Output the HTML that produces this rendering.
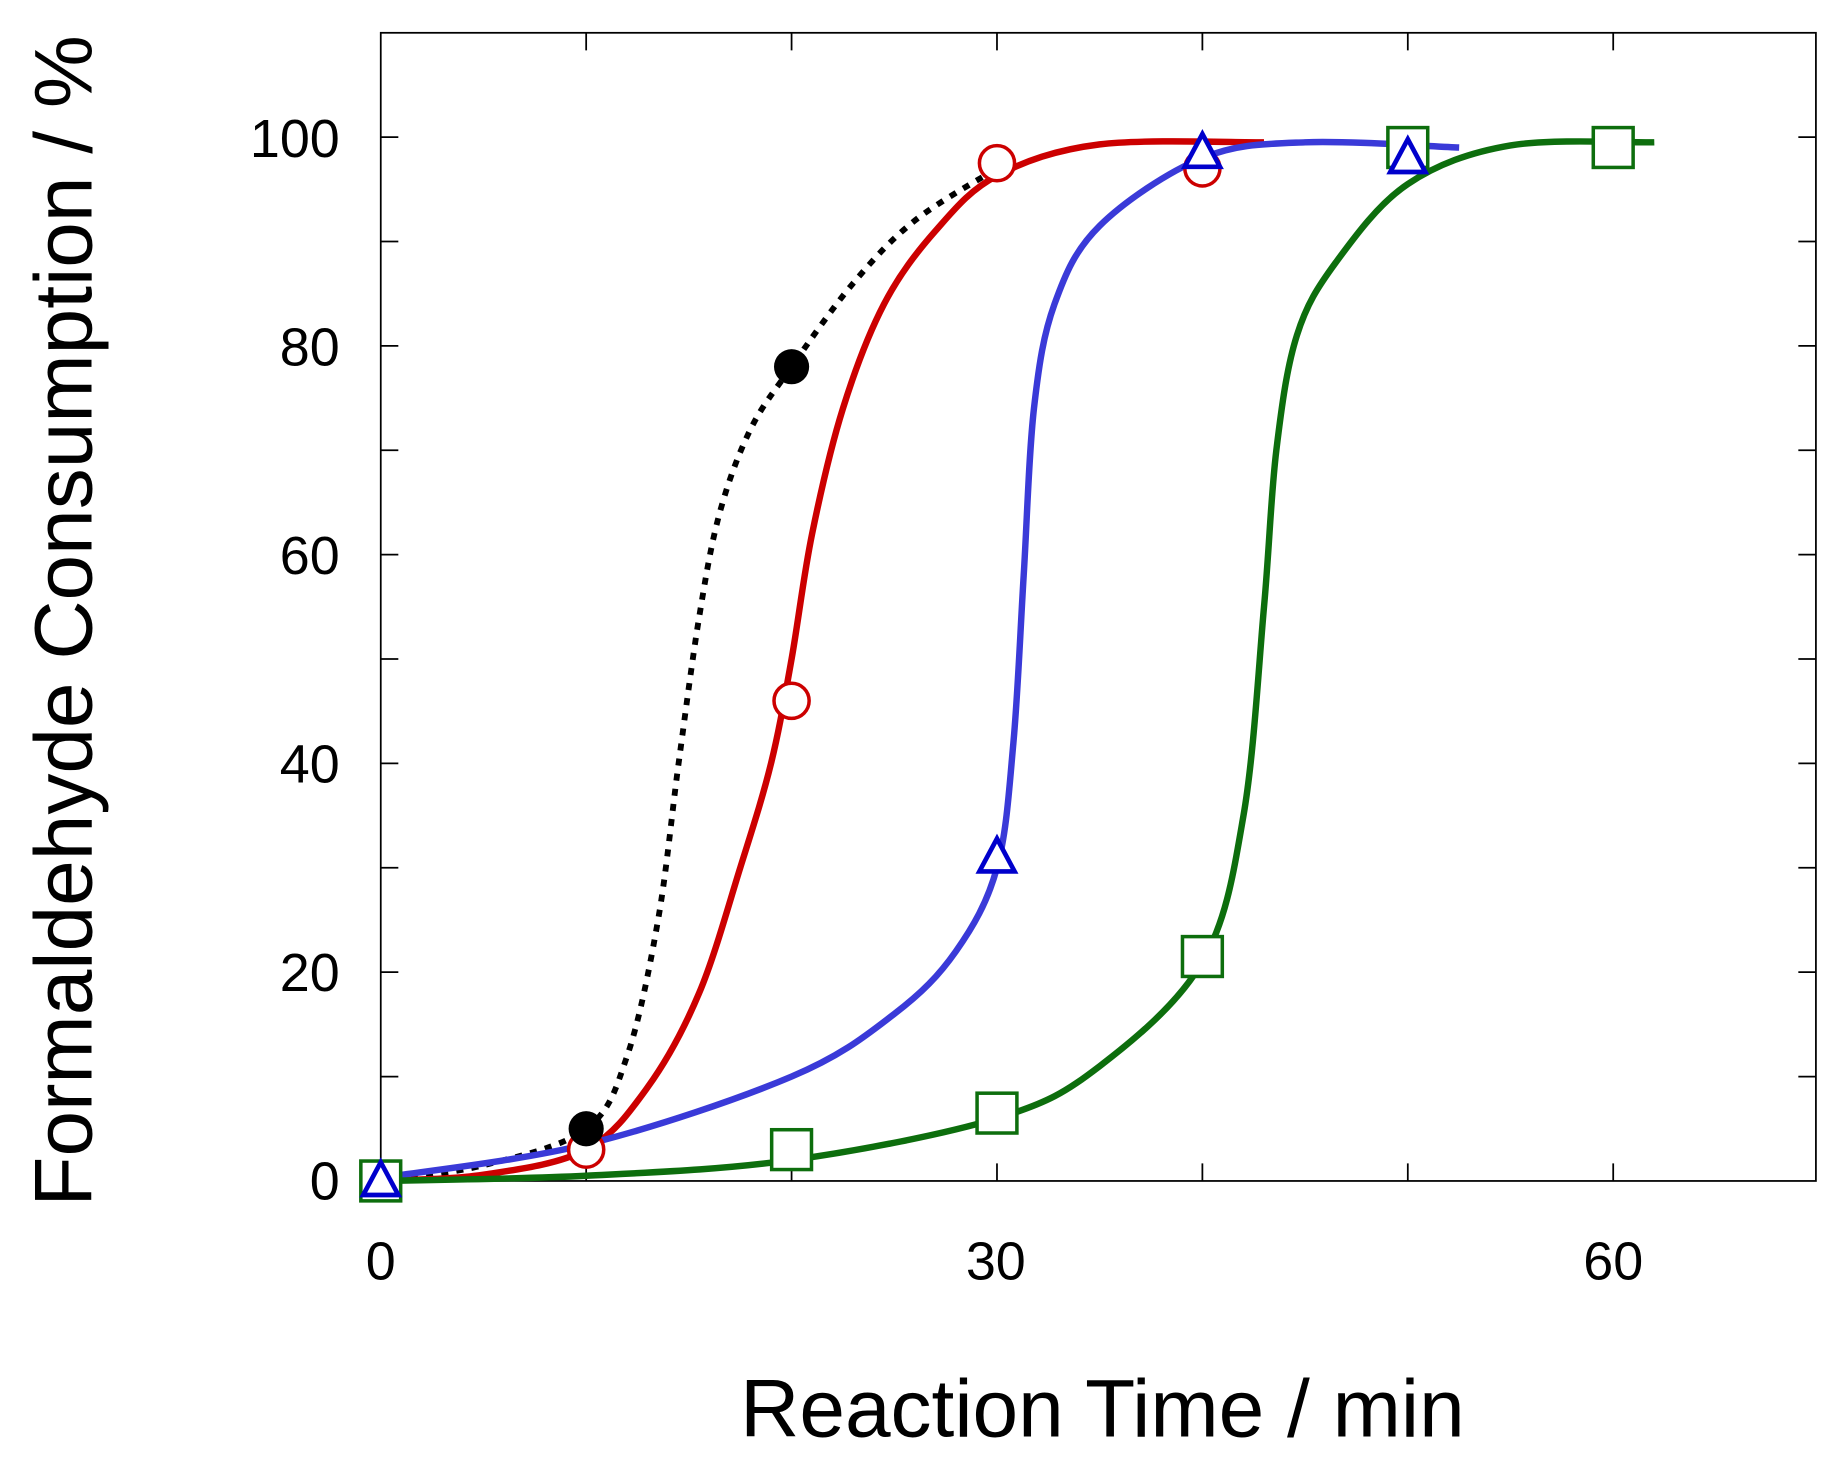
<!DOCTYPE html>
<html><head><meta charset="utf-8"><style>
html,body{margin:0;padding:0;background:#fff;}
svg{display:block;}
text{font-family:"Liberation Sans",sans-serif;fill:#000;}
</style></head><body>
<svg id="s" width="1837" height="1466" viewBox="0 0 1568 1251.3" preserveAspectRatio="none" xmlns="http://www.w3.org/2000/svg">
<rect x="325" y="28" width="1225" height="980" fill="none" stroke="#000" stroke-width="1.5"/>
<g id="ticks" stroke="#000" stroke-width="1.5"></g>
<g font-size="46" text-anchor="middle">
<text x="325" y="1092">0</text><text x="850" y="1092">30</text><text x="1377" y="1092">60</text>
</g>
<g font-size="46" text-anchor="end">
<text x="290" y="1024">0</text><text x="290" y="846">20</text><text x="290" y="668">40</text><text x="290" y="490">60</text><text x="290" y="312">80</text><text x="290" y="134">100</text>
</g>
<text x="941" y="1226" font-size="70" text-anchor="middle">Reaction Time / min</text>
<text transform="translate(78,530) rotate(-90)" font-size="70" text-anchor="middle">Formaldehyde Consumption / %</text>
<g id="curves" fill="none"></g>
<g id="marks"></g>
</svg>
<script>
var X=function(t){return 325+t*17.533;},Y=function(v){return 1008-v*8.91;};
var ns="http://www.w3.org/2000/svg";
function el(p,n,a){var e=document.createElementNS(ns,n);for(var k in a)e.setAttribute(k,a[k]);p.appendChild(e);return e;}
var tk=document.getElementById('ticks');
for(var t=10;t<70;t+=10){el(tk,'line',{x1:X(t),x2:X(t),y1:1008,y2:993});el(tk,'line',{x1:X(t),x2:X(t),y1:28,y2:43});}
for(var v=10;v<=100;v+=10){el(tk,'line',{x1:325,x2:340,y1:Y(v),y2:Y(v)});el(tk,'line',{x1:1550,x2:1535,y1:Y(v),y2:Y(v)});}
function path(pts){var p=pts.map(function(q){return [X(q[0]),Y(q[1])];});var d='M'+p[0][0]+','+p[0][1];
for(var i=0;i<p.length-1;i++){var p0=p[i-1]||p[i],p1=p[i],p2=p[i+1],p3=p[i+2]||p2;
d+=' C'+(p1[0]+(p2[0]-p0[0])/6)+','+(p1[1]+(p2[1]-p0[1])/6)+' '+(p2[0]-(p3[0]-p1[0])/6)+','+(p2[1]-(p3[1]-p1[1])/6)+' '+p2[0]+','+p2[1];}return d;}
var cv=document.getElementById('curves');
el(cv,'path',{d:path([[0,0],[5,1.5],[10,5],[12,12],[13.5,25],[14.5,40],[15.5,54],[16.5,64],[18,72],[20,78],[23,86],[26,92],[30,97]]),stroke:'#000','stroke-width':5,'stroke-dasharray':'6,7'});
el(cv,'path',{d:path([[0,0],[5,0.6],[10,3],[13,9],[15.5,18],[17.5,30],[19,40],[20,50],[21,62],[22.5,74],[24.5,84],[27,91],[30,96.3],[35,99.3],[43,99.5]]),stroke:'#cc0000','stroke-width':5.5});
el(cv,'path',{d:path([[0,0.3],[10,3.5],[20,10],[25,16],[28,22],[30,30],[30.8,42],[31.3,58],[31.8,74],[32.8,84],[35,91.5],[40,98],[45,99.5],[52.5,99]]),stroke:'#3a3ad8','stroke-width':5.5});
el(cv,'path',{d:path([[0,0],[10,0.5],[20,2],[30,6],[35,11],[40,21],[42,35],[43,55],[43.6,70],[44.6,81],[46.5,88],[50,95.5],[55,99.2],[62,99.5]]),stroke:'#0d6e0d','stroke-width':5.5});
var mk=document.getElementById('marks');
[[0,0],[10,3],[20,46],[30,97.5],[40,97]].forEach(function(q){el(mk,'circle',{cx:X(q[0]),cy:Y(q[1]),r:15,fill:'#fff',stroke:'#cc0000','stroke-width':3});});
[[0,0],[20,3],[30,6.5],[40,21.5],[50,99],[60,99]].forEach(function(q){el(mk,'rect',{x:X(q[0])-17,y:Y(q[1])-17,width:34,height:34,fill:'#fff',stroke:'#0d6e0d','stroke-width':3});});
[[10,5],[20,78]].forEach(function(q){el(mk,'circle',{cx:X(q[0]),cy:Y(q[1]),r:15,fill:'#000'});});
[[0,0],[30,31],[40,98.5],[50,98]].forEach(function(q){var x=X(q[0]),y=Y(q[1]);el(mk,'polygon',{points:(x-15)+','+(y+12)+' '+(x+15)+','+(y+12)+' '+x+','+(y-16),fill:'#fff',stroke:'#0000cc','stroke-width':4});});
</script>
</body></html>
